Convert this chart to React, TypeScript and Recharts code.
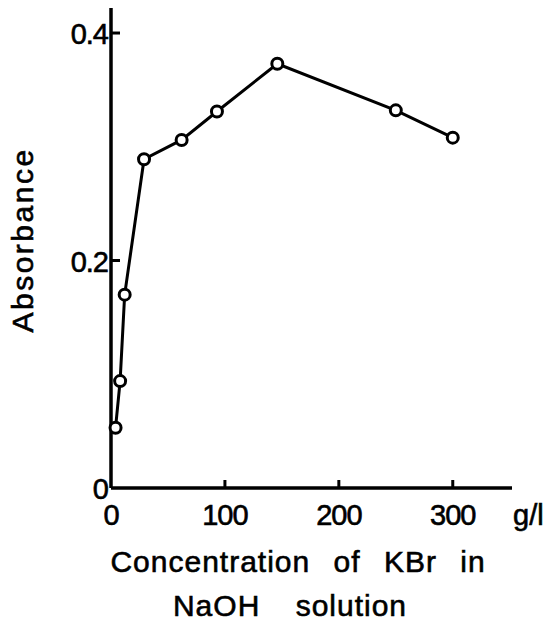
import { Line, LineChart, XAxis, YAxis } from "recharts";

const concentration = [4, 8, 12, 29, 62, 93, 146, 250, 300];
const absorbance = [0.053, 0.094, 0.17, 0.289, 0.306, 0.331, 0.373, 0.332, 0.308];
const xTicks = [0, 100, 200, 300];
const yTicks = [0, 0.2, 0.4];

const FONT = "'Liberation Sans', Arial, sans-serif";

const XTick = (props: any) => {
  const { x, y, payload } = props;
  return (
    <g>
      {payload.value !== 0 && <line x1={x} x2={x} y1={y} y2={y - 8} stroke="#000" strokeWidth={3} />}
      <text x={x} y={y + 37} textAnchor="middle" fontSize={29} letterSpacing={-1} fontFamily={FONT} fill="#000" stroke="#000" strokeWidth={0.6}>
        {payload.value}
      </text>
    </g>
  );
};

const YTick = (props: any) => {
  const { x, y, payload } = props;
  return (
    <g>
      {payload.value !== 0 && <line x1={x} x2={x + 9} y1={y} y2={y} stroke="#000" strokeWidth={3} />}
      <text x={x - 3} y={y + 11} textAnchor="end" fontSize={29} letterSpacing={-1} fontFamily={FONT} fill="#000" stroke="#000" strokeWidth={0.6}>
        {payload.value === 0 ? "0" : payload.value.toFixed(1)}
      </text>
    </g>
  );
};

export default function App() {
  const data = concentration.map((c, i) => ({ x: c, y: absorbance[i] }));

  return (
    <div style={{ position: "absolute", left: 0, top: 0, width: 558, height: 622, background: "#fff" }}>
      <LineChart width={558} height={622} data={data} margin={{ top: 8, right: 46, bottom: 94, left: 51 }}>
        <XAxis
          dataKey="x"
          type="number"
          domain={[0, 352]}
          ticks={xTicks}
          height={40}
          tickSize={0}
          tickMargin={0}
          tickLine={false}
          axisLine={{ stroke: "#000", strokeWidth: 3.5 }}
          tick={<XTick />}
          interval={0}
        />
        <YAxis
          type="number"
          domain={[0, 0.422]}
          ticks={yTicks}
          width={60}
          tickSize={0}
          tickMargin={0}
          tickLine={false}
          axisLine={{ stroke: "#000", strokeWidth: 3.5 }}
          tick={<YTick />}
          interval={0}
        />
        <Line
          type="linear"
          dataKey="y"
          stroke="#000"
          strokeWidth={3}
          dot={{ r: 5.5, fill: "#fff", stroke: "#000", strokeWidth: 3 }}
          isAnimationActive={false}
        />
      </LineChart>
      <svg
        width={558}
        height={622}
        style={{ position: "absolute", left: 0, top: 0, pointerEvents: "none" }}
        fontFamily={FONT}
        fill="#000"
        stroke="#000"
        strokeWidth={0.6}
      >
        <text x={513} y={525} fontSize={29}>g/l</text>
        <text x={298} y={572} fontSize={30} textAnchor="middle" letterSpacing={1} wordSpacing={14} style={{ whiteSpace: "pre" }}>
          Concentration of KBr in
        </text>
        <text x={290} y={616} fontSize={30} textAnchor="middle" letterSpacing={1} wordSpacing={26} style={{ whiteSpace: "pre" }}>
          NaOH solution
        </text>
        <text x={33} y={240} fontSize={30} textAnchor="middle" letterSpacing={2.5} transform="rotate(-90, 33, 240)">
          Absorbance
        </text>
      </svg>
    </div>
  );
}
